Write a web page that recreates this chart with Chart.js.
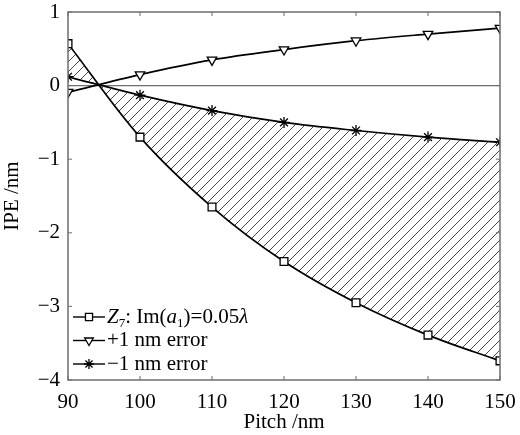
<!DOCTYPE html>
<html>
<head>
<meta charset="utf-8">
<script src="https://cdn.jsdelivr.net/npm/chart.js@4"></script>
<style>
  html, body { margin: 0; padding: 0; background: #fff; }
  #wrap { width: 520px; height: 435px; }
</style>
</head>
<body>
<div id="wrap"><canvas id="ipeChart" width="520" height="435"></canvas></div>
<script>
// values
const pitch = [90, 100, 110, 120, 130, 140, 150];
const z7Im = [0.57, -0.70, -1.65, -2.39, -2.95, -3.39, -3.74];
const plusErr = [-0.09, 0.15, 0.35, 0.49, 0.61, 0.70, 0.78];
const minusErr = [0.12, -0.13, -0.34, -0.50, -0.61, -0.70, -0.77];
const xTicks = [90, 100, 110, 120, 130, 140, 150];
const yTicks = [1, 0, -1, -2, -3, -4];

const FONT = "'Liberation Serif', 'DejaVu Serif', serif";
const AXIS_GRAY = "#6e6e6e";

function toPoints(ys) {
  return pitch.map((x, i) => ({ x, y: ys[i] }));
}

function hatchPattern() {
  const c = document.createElement("canvas");
  c.width = 10; c.height = 10;
  const g = c.getContext("2d");
  g.strokeStyle = "#333";
  g.lineWidth = 0.9;
  g.beginPath();
  g.moveTo(0, 10); g.lineTo(10, 0);
  g.moveTo(-5, 5); g.lineTo(5, -5);
  g.moveTo(5, 15); g.lineTo(15, 5);
  g.stroke();
  return g.createPattern(c, "repeat");
}

// box round the plot with small inward ticks
const framePlugin = {
  id: "frame",
  afterDatasetsDraw(chart) {
    const { ctx, chartArea: a, scales } = chart;
    ctx.save();
    ctx.strokeStyle = AXIS_GRAY;
    ctx.lineWidth = 1.5;
    ctx.strokeRect(a.left, a.top, a.right - a.left, a.bottom - a.top);
    ctx.lineWidth = 1;
    ctx.beginPath();
    xTicks.forEach(v => {
      const px = scales.x.getPixelForValue(v);
      ctx.moveTo(px, a.bottom); ctx.lineTo(px, a.bottom - 4);
      ctx.moveTo(px, a.top); ctx.lineTo(px, a.top + 4);
    });
    yTicks.forEach(v => {
      const py = scales.y.getPixelForValue(v);
      ctx.moveTo(a.left, py); ctx.lineTo(a.left + 4, py);
      ctx.moveTo(a.right, py); ctx.lineTo(a.right - 4, py);
    });
    ctx.stroke();
    ctx.restore();
  }
};

// legend inside the plot, bottom left, with sub/italic bits
const legendPlugin = {
  id: "insideLegend",
  afterDraw(chart) {
    const { ctx, chartArea: a } = chart;
    const rows = [
      { style: "rect", rot: 0, parts: [["Z", "i"], ["7", "sub"], [": Im(", ""], ["a", "i"], ["1", "sub"], [")=0.05", ""], ["λ", "i"]] },
      { style: "triangle", rot: 180, parts: [["+1 nm error", ""]] },
      { style: "star", rot: 0, parts: [["\u22121 nm error", ""]] }
    ];
    const y0 = 317, dy = 23.5;
    ctx.save();
    rows.forEach((r, i) => {
      const y = y0 + i * dy;
      const x1 = a.left + 5, x2 = a.left + 37;
      ctx.strokeStyle = "#000";
      ctx.lineWidth = 1.4;
      ctx.beginPath(); ctx.moveTo(x1, y); ctx.lineTo(x2, y); ctx.stroke();
      ctx.fillStyle = "#fff";
      ctx.lineWidth = 1.3;
      Chart.helpers.drawPoint(ctx, { pointStyle: r.style, radius: 5, rotation: r.rot, borderWidth: 1.3 }, (x1 + x2) / 2, y);
      let x = x2 + 2;
      ctx.fillStyle = "#000";
      ctx.textBaseline = "middle";
      r.parts.forEach(([t, k]) => {
        if (k === "sub") {
          ctx.font = "13px " + FONT;
          ctx.fillText(t, x, y + 7);
        } else {
          ctx.font = (k === "i" ? "italic " : "") + "21px " + FONT;
          ctx.fillText(t, x, y);
        }
        x += ctx.measureText(t).width;
      });
    });
    ctx.restore();
  }
};

const lineBase = {
  borderColor: "#000",
  borderWidth: 1.7,
  pointBackgroundColor: "#fff",
  pointBorderColor: "#000",
  pointBorderWidth: 1.3,
  pointRadius: 5.5,
  tension: 0.35
};

new Chart(document.getElementById("ipeChart"), {
  type: "line",
  data: {
    datasets: [
      { ...lineBase, label: "Z7", data: toPoints(z7Im), pointStyle: "rect",
        fill: { target: 2 }, backgroundColor: hatchPattern() },
      { ...lineBase, label: "+1 nm error", data: toPoints(plusErr), pointStyle: "triangle", pointRotation: 180, fill: false },
      { ...lineBase, label: "-1 nm error", data: toPoints(minusErr), pointStyle: "star", fill: false }
    ]
  },
  options: {
    responsive: false,
    animation: false,
    layout: { padding: { left: 0, right: 20, top: 12, bottom: 0 } },
    plugins: { legend: { display: false }, tooltip: { enabled: false } },
    scales: {
      x: {
        type: "linear", min: 90, max: 150,
        afterBuildTicks: s => { s.ticks = xTicks.map(v => ({ value: v })); },
        afterFit: s => { s.height = 55; s.paddingLeft = 0; s.paddingRight = 0; },
        grid: { display: false },
        border: { display: false },
        ticks: { color: "#000", font: { family: FONT, size: 21 }, padding: 2, maxRotation: 0 },
        title: { display: true, text: "Pitch /nm", color: "#000", font: { family: FONT, size: 21 }, padding: 0 }
      },
      y: {
        min: -4, max: 1,
        afterBuildTicks: s => { s.ticks = yTicks.map(v => ({ value: v })); },
        afterFit: s => { s.width = 68; s.paddingTop = 0; s.paddingBottom = 0; },
        grid: {
          drawTicks: false,
          color: ctx => ctx.tick && ctx.tick.value === 0 ? AXIS_GRAY : "rgba(0,0,0,0)",
          lineWidth: 1.2
        },
        border: { display: false },
        ticks: {
          color: "#000", font: { family: FONT, size: 21 }, padding: 8,
          callback: v => (v < 0 ? "\u2212" + Math.abs(v) : String(v))
        },
        title: { display: true, text: "IPE /nm", color: "#000", font: { family: FONT, size: 21 }, padding: { top: 0, bottom: 0 } }
      }
    }
  },
  plugins: [framePlugin, legendPlugin]
});
</script>
</body>
</html>
